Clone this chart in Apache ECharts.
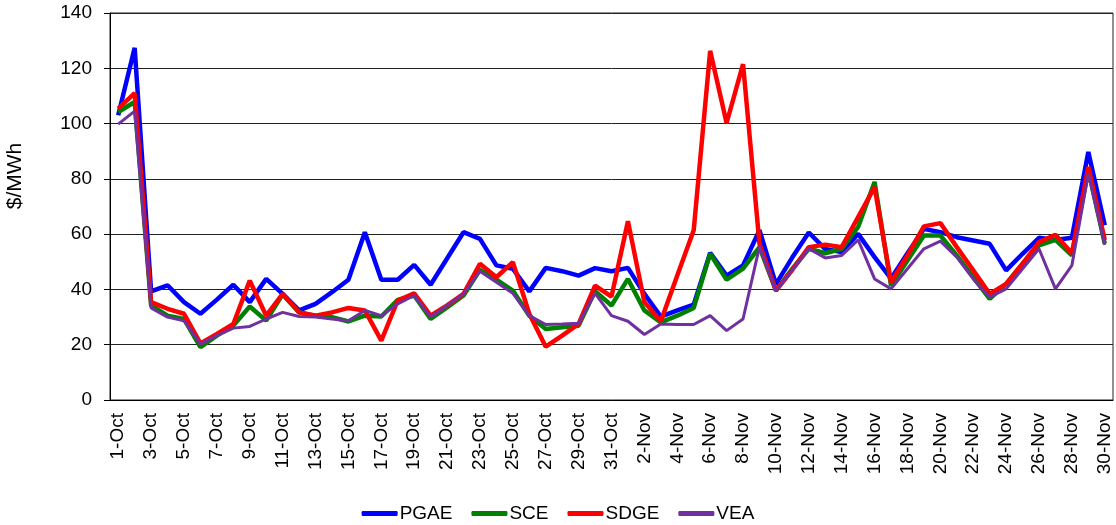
<!DOCTYPE html>
<html>
<head>
<meta charset="utf-8">
<script src="https://cdn.jsdelivr.net/npm/echarts@6/dist/echarts.min.js"></script>
<style>
  html, body { margin: 0; padding: 0; background: #fff; }
  #chart { width: 1116px; height: 525px; }
</style>
</head>
<body>
<div id="chart"></div>
<script>
  // days 1-Oct .. 30-Nov
  var days = [];
  for (var d = 1; d <= 31; d++) days.push(d + '-Oct');
  for (var d = 1; d <= 30; d++) days.push(d + '-Nov');

  var pgae = [103, 127.4, 39.3, 41.5, 35.4, 31.2, 36.3, 41.7, 35.4, 43.8, 38.4, 32.4, 34.8, 39, 43.5,
    60.7, 43.5, 43.5, 48.9, 41.7, 51.2, 60.7, 58.3, 48.7, 47.5, 39.3, 47.8, 46.6, 45, 47.7,
    46.6, 47.8, 38.4, 30.2, 32.4, 34.5, 53.2, 45, 48.7, 61.4, 41.9, 51.6, 60.6, 54.6, 53.5,
    60.1, 51.7, 43.9, 53.1, 61.9, 60.7, 58.9, 57.7, 56.5, 46.9, 52.9, 58.7, 57.9, 58.7, 89.7, 63.2];
  var sce = [104.2, 107.8, 34.2, 30.5, 29.3, 19.1, 23.3, 26.9, 33.8, 28.7, 38.2, 31.7, 30.5, 30, 28.4,
    30.5, 30.2, 36.2, 37.8, 29.3, 33.5, 37.8, 47.1, 43.5, 39.6, 30.5, 25.7, 26.3, 26.9, 39.4,
    34.2, 43.8, 32.4, 28.1, 30.5, 33.3, 52.9, 43.5, 47.5, 55.3, 39.6, 47.5, 54.7, 53.1, 54.7,
    62.6, 78.9, 41.4, 50.5, 59.5, 59.5, 52.3, 44.4, 36.6, 42, 49.3, 55.9, 57.9, 52.3, 83.1, 56.5];
  var sdge = [105.4, 111, 35.4, 33, 31.2, 20.5, 23.9, 27.5, 43.2, 30.5, 38.4, 31.7, 30.5, 31.7, 33.3,
    32.4, 21.5, 36, 38.6, 30.5, 34.2, 38.4, 49.3, 44.4, 49.9, 31.2, 19.3, 23.3, 27.5, 41.4,
    37.4, 64.7, 35.4, 28.5, 45, 61.4, 126.3, 100.2, 121.5, 56.5, 39.6, 47.1, 55.3, 56.2, 55.3,
    66.2, 77, 42.6, 52.3, 62.8, 64, 55.3, 46.9, 38.4, 42, 49.3, 57.1, 59.8, 53.1, 84.3, 57.9];
  var vea = [99.8, 104.5, 33.3, 30, 28.7, 20.3, 23.3, 26, 26.6, 29.3, 31.7, 30.2, 30, 29.3, 28.7,
    32.4, 30.5, 34.8, 37.8, 30, 34.2, 38.4, 46.6, 42.6, 38.6, 30.5, 27.3, 27.5, 27.8, 38.6,
    30.5, 28.5, 23.7, 27.5, 27.3, 27.3, 30.5, 25.1, 29.3, 55.5, 39.4, 47.1, 54.7, 51.4, 52.3,
    57.9, 43.8, 40.2, 47.5, 54.7, 57.5, 51.7, 43.8, 37.2, 40.2, 47.5, 54.7, 40.2, 48.7, 81.9, 56.1];

  var font = 'Liberation Sans, Arial, sans-serif';
  var chart = echarts.init(document.getElementById('chart'));

  function line(name, data, color, width) {
    return {
      name: name, type: 'line', data: data,
      symbol: 'none', smooth: false,
      lineStyle: { color: color, width: width },
      itemStyle: { color: color }
    };
  }

  chart.setOption({
    animation: false,
    textStyle: { fontFamily: font },
    grid: { left: 110, right: 3, top: 13, bottom: 125, show: true, borderColor: '#222', borderWidth: 1 },
    graphic: [{
      type: 'text', x: 15, y: 176, rotation: Math.PI / 2,
      style: { text: '$/MWh', font: '21px ' + font, fill: '#000', align: 'center', verticalAlign: 'middle' }
    }],
    legend: {
      top: 499, left: 'center', itemWidth: 36, itemHeight: 5, itemGap: 19,
      icon: 'roundRect',
      lineStyle: { width: 5, cap: 'round' },
      textStyle: { fontFamily: font, fontSize: 19, color: '#000', padding: [0, 0, 0, -3] },
      data: ['PGAE', 'SCE', 'SDGE', 'VEA']
    },
    xAxis: {
      type: 'category', data: days, boundaryGap: true,
      axisLine: { lineStyle: { color: '#000', width: 1 } },
      axisTick: { interval: 1, length: 5, lineStyle: { color: '#000' } },
      axisLabel: { interval: 1, rotate: 90, fontSize: 19, color: '#000', fontFamily: font, margin: 13 }
    },
    yAxis: {
      type: 'value', min: 0, max: 140, interval: 20,
      axisLine: { show: true, lineStyle: { color: '#000' } },
      axisTick: { show: true, length: 6, lineStyle: { color: '#000' } },
      axisLabel: { fontSize: 19, color: '#000', fontFamily: font, margin: 18 },
      splitLine: { lineStyle: { color: '#222', width: 1 } }
    },
    series: [
      line('PGAE', pgae, '#0000ff', 4.5),
      line('SCE', sce, '#008000', 4.5),
      line('SDGE', sdge, '#ff0000', 4.5),
      line('VEA', vea, '#7030a0', 3)
    ]
  });
</script>
</body>
</html>
